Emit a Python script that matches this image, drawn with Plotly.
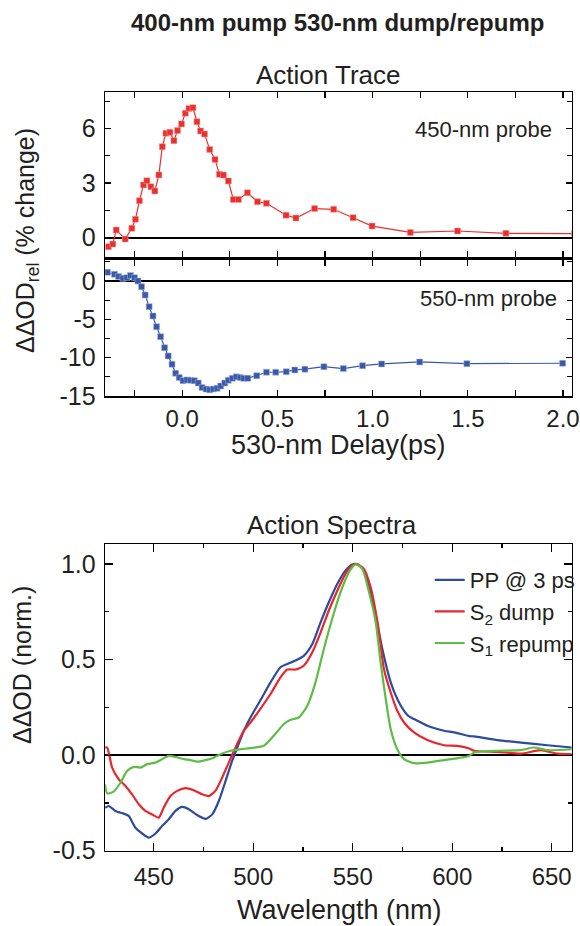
import plotly.graph_objects as go

# ---------------- data ----------------
# Action trace, 450-nm probe (red)
delay_450 = [-0.388, -0.365, -0.347, -0.30, -0.265, -0.246, -0.225, -0.204, -0.186, -0.165,
             -0.144, -0.123, -0.105, -0.086, -0.065, -0.044, -0.025, -0.004, 0.016, 0.035,
             0.056, 0.077, 0.096, 0.117, 0.144, 0.172, 0.195, 0.216, 0.242, 0.268,
             0.295, 0.342, 0.395, 0.442, 0.545, 0.597, 0.695, 0.795, 0.897, 0.997,
             1.198, 1.446, 1.70, 2.06]
ddod_450 = [-0.49, -0.35, 0.42, -0.07, 0.52, 1.01, 2.03, 2.9, 3.13, 2.8,
            2.57, 3.45, 5.0, 5.73, 5.79, 5.33, 5.88, 6.25, 6.83, 7.1,
            7.14, 6.37, 5.86, 5.69, 4.85, 4.3, 3.48, 3.44, 3.12, 2.1,
            2.1, 2.47, 1.98, 1.89, 1.24, 1.08, 1.6, 1.56, 1.1, 0.64,
            0.29, 0.37, 0.24, 0.22]

# Action trace, 550-nm probe (blue)
delay_550 = [-0.393, -0.356, -0.335, -0.312, -0.291, -0.272, -0.251, -0.233, -0.214, -0.195,
             -0.174, -0.154, -0.135, -0.114, -0.093, -0.074, -0.054, -0.035, -0.016, 0.004,
             0.025, 0.044, 0.063, 0.084, 0.104, 0.125, 0.144, 0.163, 0.183, 0.202,
             0.223, 0.242, 0.263, 0.284, 0.304, 0.323, 0.344, 0.391, 0.442, 0.491,
             0.546, 0.591, 0.644, 0.744, 0.846, 0.947, 1.047, 1.247, 1.495, 1.998]
ddod_550 = [1.13, 0.87, 0.57, 0.35, 0.43, 0.7, 0.43, 0.0, -0.74, -1.83,
            -3.35, -4.56, -5.96, -7.26, -8.7, -9.78, -10.86, -12.04, -12.6, -13.0,
            -12.9, -12.95, -13.0, -13.3, -13.9, -14.1, -14.2, -14.1, -14.0, -13.7,
            -13.3, -12.95, -12.7, -12.5, -12.6, -12.7, -12.7, -12.35, -11.9, -11.9,
            -11.83, -11.6, -11.5, -11.17, -11.43, -11.04, -10.82, -10.56, -10.78, -10.73]

# Action spectra
wl_pp = [425.5, 427.4, 430.7, 434.9, 437.4, 440.8, 444.2, 447.5, 450.9, 454.2,
         457.5, 460.9, 464.3, 467.6, 471.8, 476.0, 479.4, 482.7, 486.1, 489.4,
         492.0, 495.3, 499.0, 503.5, 508.7, 513.7, 517.1, 521.3, 525.5, 529.7,
         533.9, 538.0, 542.3, 546.4, 549.8, 552.0, 554.8, 558.5, 561.8, 565.0,
         569.1, 572.4, 575.8, 578.0, 580.8, 587.5, 595.9, 601.0, 608.5, 611.0,
         622.8, 634.5, 647.9, 660.0]
od_pp = [-0.275, -0.266, -0.292, -0.306, -0.318, -0.38, -0.41, -0.432, -0.41, -0.371,
         -0.336, -0.292, -0.271, -0.283, -0.313, -0.333, -0.31, -0.24, -0.135, -0.03,
         0.04, 0.128, 0.205, 0.285, 0.381, 0.46, 0.477, 0.495, 0.521, 0.582,
         0.696, 0.80, 0.897, 0.967, 0.998, 1.0, 0.976, 0.88, 0.72, 0.55,
         0.381, 0.294, 0.232, 0.205, 0.189, 0.154, 0.128, 0.119, 0.10, 0.098,
         0.079, 0.066, 0.052, 0.04]

wl_dump = [425.5, 426.6, 429.1, 432.4, 435.8, 439.1, 442.5, 445.8, 449.2, 452.5,
           455.0, 458.4, 461.8, 466.0, 470.1, 474.3, 477.7, 481.0, 484.4, 487.7,
           491.1, 495.3, 499.0, 503.5, 508.7, 513.7, 517.1, 521.3, 525.5, 529.7,
           533.9, 538.0, 542.3, 546.4, 549.8, 552.0, 555.6, 559.0, 562.4, 565.7,
           569.1, 572.4, 575.8, 580.8, 587.5, 595.9, 602.6, 608.5, 611.0, 622.8,
           634.5, 644.5, 652.9, 660.0]
od_dump = [0.04, 0.04, -0.065, -0.126, -0.161, -0.205, -0.257, -0.292, -0.31, -0.327,
           -0.275, -0.214, -0.187, -0.173, -0.184, -0.205, -0.214, -0.187, -0.117, -0.039,
           0.04, 0.128, 0.176, 0.241, 0.32, 0.407, 0.448, 0.448, 0.469, 0.538,
           0.643, 0.757, 0.862, 0.95, 0.993, 1.0, 0.976, 0.879, 0.70, 0.451,
           0.328, 0.232, 0.171, 0.119, 0.079, 0.052, 0.049, 0.035, 0.023, 0.017,
           0.008, 0.026, 0.008, 0.005]

wl_repump = [425.5, 426.6, 430.0, 433.3, 436.7, 440.0, 443.3, 446.7, 450.9, 454.2,
             457.5, 460.9, 465.1, 468.5, 471.8, 476.0, 479.4, 483.5, 488.6, 493.6,
             498.6, 505.3, 510.3, 515.4, 518.8, 522.9, 527.2, 531.3, 535.5, 539.7,
             543.9, 548.1, 551.5, 554.8, 558.2, 561.5, 564.0, 566.6, 569.1, 572.4,
             575.8, 580.8, 587.5, 595.9, 608.5, 611.0, 622.8, 634.5, 641.0, 648.0,
             660.0]
od_repump = [-0.152, -0.2, -0.19, -0.144, -0.082, -0.061, -0.065, -0.047, -0.039, -0.021,
             -0.004, -0.009, -0.021, -0.026, -0.034, -0.026, -0.016, 0.005, 0.023, 0.031,
             0.037, 0.049, 0.101, 0.163, 0.185, 0.197, 0.259, 0.381, 0.556, 0.714,
             0.853, 0.958, 0.998, 0.976, 0.853, 0.70, 0.486, 0.294, 0.136, 0.031,
             -0.021, -0.042, -0.039, -0.026, -0.004, 0.014, 0.023, 0.026, 0.04, 0.026,
             0.031]

# tick labels
trace_y1_vals = [0, 3, 6]
trace_y1_text = ["0", "3", "6"]
trace_y2_vals = [0, -5, -10, -15]
trace_y2_text = ["0", "-5", "-10", "-15"]
delay_ticks = [0.0, 0.5, 1.0, 1.5, 2.0]
delay_ticktext = ["0.0", "0.5", "1.0", "1.5", "2.0"]
spec_y_vals = [-0.5, 0.0, 0.5, 1.0]
spec_y_text = ["-0.5", "0.0", "0.5", "1.0"]
wl_ticks = [450, 500, 550, 600, 650]

# ---------------- styling ----------------
FONT = "Liberation Sans, Arial, Helvetica, sans-serif"
TXT = "#231f20"
RED_M = "#e8302e"
BLUE_M = "#3a58a8"
C_PP = "#2c4a9e"
C_DUMP = "#e8262b"
C_REP = "#5cbd42"

# reference frame (positions below are measured in this 580x926 frame)
REF_W, REF_H = 580, 926
# the photographed page comes out ~1.5 % smaller, so the figure is drawn slightly larger
W, H = 589, 940


def px_x(p):
    return p / REF_W


def px_y(p):
    return 1 - p / REF_H


fig = go.Figure()

fig.add_trace(go.Scatter(x=delay_450, y=ddod_450, mode="lines+markers",
                         line=dict(color=RED_M, width=1.2),
                         marker=dict(symbol="square", size=6, color=RED_M,
                                     line=dict(color="#f6a0a0", width=0.5)),
                         xaxis="x", yaxis="y", showlegend=False))
fig.add_trace(go.Scatter(x=delay_550, y=ddod_550, mode="lines+markers",
                         line=dict(color=BLUE_M, width=1.2),
                         marker=dict(symbol="square", size=6, color=BLUE_M,
                                     line=dict(color="#a8b8e0", width=0.5)),
                         xaxis="x2", yaxis="y2", showlegend=False))

fig.add_trace(go.Scatter(x=wl_pp, y=od_pp, mode="lines", name="PP @ 3 ps",
                         line=dict(color=C_PP, width=2.2, shape="spline", smoothing=0.6),
                         xaxis="x3", yaxis="y3"))
fig.add_trace(go.Scatter(x=wl_dump, y=od_dump, mode="lines", name="S<sub>2</sub> dump",
                         line=dict(color=C_DUMP, width=2.2, shape="spline", smoothing=0.6),
                         xaxis="x3", yaxis="y3"))
fig.add_trace(go.Scatter(x=wl_repump, y=od_repump, mode="lines", name="S<sub>1</sub> repump",
                         line=dict(color=C_REP, width=2.2, shape="spline", smoothing=0.6),
                         xaxis="x3", yaxis="y3"))

xdom = [px_x(105), px_x(571)]
axis_common = dict(showline=True, linecolor="black", linewidth=1.5, mirror="allticks",
                   ticks="inside", tickcolor="black", tickwidth=1.2, showgrid=False)
yfont = dict(family=FONT, size=25, color=TXT)
xfont = dict(family=FONT, size=24, color=TXT)

fig.update_layout(
    width=W, height=H,
    margin=dict(l=0, r=0, t=0, b=0),
    paper_bgcolor="white", plot_bgcolor="white",
    font=dict(family=FONT, color=TXT),
    xaxis=dict(domain=xdom, anchor="y", range=[-0.405, 2.047], tickmode="array",
               tickvals=delay_ticks, showticklabels=False, ticklen=6, zeroline=False,
               minor=dict(dtick=0.25, tick0=0, ticks="inside", ticklen=6, tickcolor="black"),
               tickfont=xfont, **axis_common),
    yaxis=dict(domain=[px_y(256.5), px_y(92)], anchor="x", range=[-1.03, 8.0],
               tickmode="array", tickvals=trace_y1_vals, ticktext=trace_y1_text,
               ticklen=6, zeroline=True, zerolinecolor="black", zerolinewidth=2,
               minor=dict(dtick=1.5, tick0=0, ticks="inside", ticklen=5, tickcolor="black"),
               ticklabelstandoff=3, tickfont=yfont, **axis_common),
    xaxis2=dict(domain=xdom, anchor="y2", range=[-0.405, 2.047], tickmode="array",
                tickvals=delay_ticks, ticktext=delay_ticktext, ticklen=6, zeroline=False,
                minor=dict(dtick=0.25, tick0=0, ticks="inside", ticklen=6, tickcolor="black"),
                ticklabelstandoff=1, tickfont=xfont, **axis_common),
    yaxis2=dict(domain=[px_y(396), px_y(259.5)], anchor="x2", range=[-15, 2.8],
                tickmode="array", tickvals=trace_y2_vals, ticktext=trace_y2_text,
                ticklen=6, zeroline=True, zerolinecolor="black", zerolinewidth=2,
                minor=dict(dtick=2.5, tick0=0, ticks="inside", ticklen=5, tickcolor="black"),
                ticklabelstandoff=3, tickfont=yfont, **axis_common),
    xaxis3=dict(domain=xdom, anchor="y3", range=[425.6, 660.2], tickmode="array",
                tickvals=wl_ticks, ticklen=8, zeroline=False,
                minor=dict(dtick=25, tick0=0, ticks="inside", ticklen=4, tickcolor="black"),
                ticklabelstandoff=4, tickfont=xfont, **axis_common),
    yaxis3=dict(domain=[px_y(850.7), px_y(544)], anchor="x3", range=[-0.5, 1.105],
                tickmode="array", tickvals=spec_y_vals, ticktext=spec_y_text,
                ticklen=8, zeroline=True, zerolinecolor="black", zerolinewidth=2,
                minor=dict(dtick=0.25, tick0=0, ticks="inside", ticklen=4, tickcolor="black"),
                ticklabelstandoff=3, tickfont=yfont, **axis_common),
    legend=dict(x=px_x(429), y=px_y(559), xanchor="left", yanchor="top",
                bgcolor="rgba(0,0,0,0)", font=dict(family=FONT, size=22, color=TXT),
                tracegroupgap=0, itemwidth=30),
)

ann = [
    dict(text="<b>400-nm pump 530-nm dump/repump</b>", x=px_x(337), y=px_y(23), size=24),
    dict(text="Action Trace", x=px_x(328), y=px_y(75), size=26),
    dict(text="Action Spectra", x=px_x(331), y=px_y(525), size=26),
    dict(text="530-nm Delay(ps)", x=px_x(338), y=px_y(445), size=27),
    dict(text="Wavelength (nm)", x=px_x(339), y=px_y(910), size=27),
]
for a in ann:
    fig.add_annotation(text=a["text"], x=a["x"], y=a["y"], xref="paper", yref="paper",
                       xanchor="center", yanchor="middle", showarrow=False,
                       font=dict(family=FONT, size=a["size"], color=TXT))

fig.add_annotation(text="ΔΔOD<sub>rel</sub> (% change)", x=px_x(27), y=px_y(241),
                   xref="paper", yref="paper", textangle=-90, showarrow=False,
                   xanchor="center", yanchor="middle",
                   font=dict(family=FONT, size=25, color=TXT))
fig.add_annotation(text="ΔΔOD (norm.)", x=px_x(22), y=px_y(665),
                   xref="paper", yref="paper", textangle=-90, showarrow=False,
                   xanchor="center", yanchor="middle",
                   font=dict(family=FONT, size=25, color=TXT))

fig.add_annotation(text="450-nm probe", x=px_x(553), y=px_y(129), xref="paper", yref="paper",
                   xanchor="right", yanchor="middle", showarrow=False,
                   font=dict(family=FONT, size=22, color=TXT))
fig.add_annotation(text="550-nm probe", x=px_x(558), y=px_y(298), xref="paper", yref="paper",
                   xanchor="right", yanchor="middle", showarrow=False,
                   font=dict(family=FONT, size=22, color=TXT))

# remove the browser's default body margin / scrollbars so the figure sits at the page origin
page_js = ("document.documentElement.style.margin='0px';"
           "document.documentElement.style.overflow='hidden';"
           "document.body.style.margin='0px';"
           "document.body.style.overflow='hidden';")
fig.write_html("out.html", post_script=page_js, config={"staticPlot": True})
